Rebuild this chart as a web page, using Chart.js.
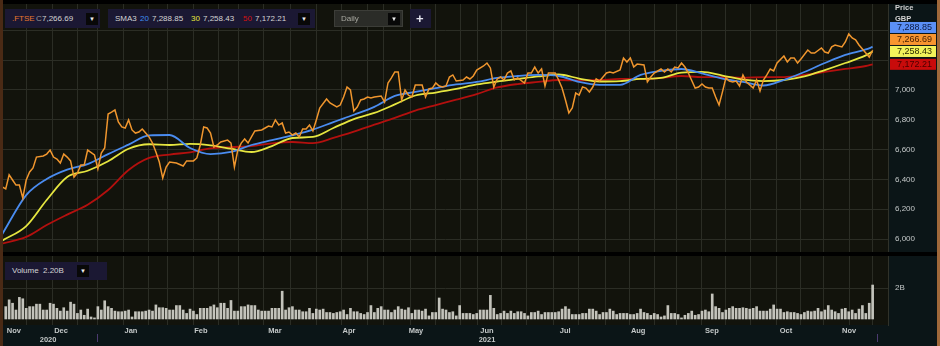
<!DOCTYPE html>
<html>
<head>
<meta charset="utf-8">
<title>FTSE daily</title>
<script src="https://cdn.jsdelivr.net/npm/chart.js@4.4.1/dist/chart.umd.min.js"></script>
<style>
  html, body { margin: 0; padding: 0; }
  body { width: 940px; height: 346px; background: #000; position: relative; overflow: hidden;
         font-family: "Liberation Sans", Arial, sans-serif; }
  canvas { position: absolute; left: 3px; }
  #priceChart { top: 4px; }
  #volumeChart { top: 256px; }
  .edge { position: absolute; top: 0; height: 346px; }
  .box { position: absolute; background: #1b1833; height: 19px; color: #d4d4d4; font-size: 8px; }
  .box span { position: absolute; top: 5px; white-space: nowrap; line-height: 9px; }
  .dd { position: absolute; width: 12px; height: 12px; background: #080808; color: #eee;
        font-size: 6px; line-height: 12px; text-align: center; }
  .axisTitle { position: absolute; left: 895px; color: #d2d2d2; font-size: 7.5px; font-weight: bold; }
  .mark { position: absolute; top: 334px; width: 1px; height: 8px; background: #4c3a70; }
</style>
</head>
<body>
<canvas id="priceChart" width="934" height="248"></canvas>
<canvas id="volumeChart" width="934" height="90"></canvas>
<div class="edge" style="left:0;width:3px;background:#4a2a15"></div>
<div class="edge" style="left:937px;width:3px;background:#a0683a"></div>

<div class="box" style="left:5px;top:9px;width:95px">
  <span style="left:7px;color:#e8772e">.FTSE</span>
  <span style="left:31px;color:#9a9a9a">C</span>
  <span style="left:37px">7,266.69</span>
  <div class="dd" style="left:81px;top:4px">▼</div>
</div>
<div class="box" style="left:108px;top:9px;width:207px">
  <span style="left:7px">SMA3</span>
  <span style="left:32px;color:#3f8ef2">20</span>
  <span style="left:44px">7,288.85</span>
  <span style="left:83px;color:#e6e63c">30</span>
  <span style="left:95px">7,258.43</span>
  <span style="left:135px;color:#d21212">50</span>
  <span style="left:147px">7,172.21</span>
  <div class="dd" style="left:190px;top:4px">▼</div>
</div>
<div class="box" style="left:334px;top:10px;width:67px;height:15px;background:#2b2c28;border:1px solid #3c3d38">
  <span style="left:6px;top:3px;color:#a8a8a0">Daily</span>
  <div class="dd" style="left:53px;top:2px">▼</div>
</div>
<div class="box" style="left:410px;top:9px;width:21px">
  <span style="left:6px;top:3px;font-size:13px;font-weight:bold;line-height:13px;color:#e4e4ee">+</span>
</div>
<div class="box" style="left:5px;top:262px;width:102px;height:18px">
  <span style="left:7px;top:4px">Volume</span>
  <span style="left:38px;top:4px">2.20B</span>
  <div class="dd" style="left:72px;top:3px">▼</div>
</div>
<div class="axisTitle" style="top:3px">Price</div>
<div class="axisTitle" style="top:14px">GBP</div>
<div class="mark" style="left:97px"></div>
<div class="mark" style="left:877px"></div>

<script>
// trading day index (0 = first volume bar) and closing level of .FTSE
const closeDays = [
  -1, 0, 1, 2, 3, 4, 5, 6, 7, 8,
  9, 11, 12, 13, 14, 15, 16, 17, 18, 19,
  20, 21, 22, 23, 24, 26, 27, 28, 29, 30,
  31, 32, 33, 34, 35, 36, 37, 38, 39, 40,
  41, 42, 43, 44, 45, 46, 47, 48, 50, 52,
  53, 55, 56, 57, 58, 59, 60, 61, 62, 63,
  65, 66, 67, 68, 69, 70, 71, 72, 73, 75,
  76, 77, 78, 79, 80, 81, 82, 83, 84, 85,
  86, 87, 88, 89, 90, 91, 92, 94, 95, 97,
  98, 99, 100, 101, 102, 103, 104, 105, 106, 107,
  108, 110, 111, 112, 113, 114, 115, 116, 117, 118,
  119, 120, 121, 122, 123, 124, 125, 126, 127, 128,
  129, 130, 131, 132, 134, 135, 136, 137, 138, 140,
  141, 142, 143, 144, 145, 146, 147, 148, 149, 150,
  152, 153, 154, 155, 156, 157, 158, 159, 160, 161,
  162, 163, 164, 165, 166, 167, 168, 169, 170, 171,
  172, 173, 174, 175, 176, 177, 178, 180, 181, 182,
  183, 184, 185, 187, 188, 189, 190, 192, 193, 194,
  195, 196, 197, 198, 199, 200, 202, 203, 204, 205,
  206, 207, 208, 209, 210, 211, 212, 213, 214, 215,
  216, 217, 218, 219, 220, 221, 222, 223, 224, 225,
  226, 228, 229, 230, 231, 232, 233, 235, 236, 237,
  239, 240, 241, 242, 243, 245, 246, 247, 248, 249,
  250, 252, 253, 254
];
const closeValues = [
  6349, 6336, 6430, 6396, 6362, 6362, 6275, 6396, 6450, 6477,
  6550, 6557, 6570, 6597, 6550, 6537, 6510, 6570, 6550, 6524,
  6416, 6443, 6497, 6497, 6597, 6564, 6470, 6577, 6611, 6839,
  6852, 6866, 6785, 6752, 6745, 6799, 6732, 6711, 6718, 6738,
  6711, 6685, 6644, 6584, 6517, 6409, 6483, 6517, 6510, 6490,
  6524, 6524, 6544, 6631, 6752, 6745, 6711, 6617, 6631, 6651,
  6664, 6644, 6483, 6597, 6644, 6671, 6644, 6685, 6725, 6732,
  6745, 6758, 6752, 6799, 6765, 6779, 6711, 6718, 6698, 6711,
  6685, 6738, 6738, 6765, 6725, 6799, 6879, 6940, 6913, 6886,
  6899, 6953, 7020, 7000, 6859, 6886, 6933, 6940, 6953, 6946,
  6953, 6960, 6919, 7047, 7081, 7121, 7121, 6933, 7000, 6966,
  6953, 7034, 7034, 7034, 6953, 7007, 7013, 7047, 7027, 7020,
  7027, 7087, 7101, 7060, 7067, 7087, 7074, 7094, 7134, 7161,
  7181, 7148, 7020, 7074, 7087, 7067, 7114, 7128, 7067, 7081,
  7047, 7114, 7114, 7154, 7114, 7141, 7027, 7114, 7114, 7114,
  7067, 7013, 6933, 6846, 6879, 6980, 6966, 7020, 7013, 6987,
  7020, 7074, 7060, 7087, 7114, 7121, 7114, 7134, 7215, 7188,
  7215, 7154, 7174, 7168, 7054, 7087, 7114, 7141, 7121, 7141,
  7121, 7154, 7148, 7181, 7154, 7114, 7013, 7020, 7040, 7020,
  7013, 7013, 6953, 6899, 6987, 7081, 7060, 7054, 7060, 7027,
  7101, 7054, 7034, 7013, 7067, 6993, 7067, 7101, 7141, 7128,
  7181, 7228, 7188, 7215, 7215, 7181, 7208, 7268, 7248, 7248,
  7282, 7255, 7248, 7289, 7302, 7289, 7322, 7376, 7349, 7336,
  7302, 7248, 7221, 7266.69
];

// simple moving averages, read every sixth trading day
const smaDays = [-1, 6, 12, 18, 24, 30, 36, 42, 48, 54, 60, 66, 72, 78, 84, 90, 96, 102, 108, 114, 120,
  126, 132, 138, 144, 150, 156, 162, 168, 174, 180, 186, 192, 198, 204, 210, 216, 222, 228, 234, 240,
  246, 252, 254];
const sma20 = [6034, 6295, 6403, 6466, 6503, 6570, 6633, 6695, 6698, 6611, 6570, 6584, 6631, 6664, 6696,
  6734, 6785, 6834, 6887, 6960, 6987, 7013, 7037, 7054, 7081, 7094, 7101, 7094, 7054, 7034, 7034, 7101,
  7128, 7141, 7111, 7077, 7054, 7030, 7067, 7121, 7181, 7235, 7272, 7288.85];
const sma30 = [5990, 6087, 6262, 6416, 6458, 6522, 6606, 6636, 6631, 6638, 6628, 6606, 6584, 6624, 6678,
  6685, 6745, 6805, 6846, 6903, 6963, 6983, 7007, 7037, 7057, 7074, 7091, 7104, 7077, 7057, 7060, 7074,
  7081, 7117, 7121, 7097, 7070, 7060, 7067, 7091, 7134, 7181, 7232, 7258.43];
const sma50 = [5970, 6014, 6094, 6164, 6230, 6329, 6463, 6544, 6567, 6582, 6608, 6617, 6624, 6642, 6651,
  6644, 6678, 6720, 6767, 6813, 6862, 6899, 6935, 6973, 7017, 7040, 7054, 7067, 7064, 7067, 7074, 7074,
  7081, 7094, 7087, 7087, 7081, 7087, 7087, 7101, 7121, 7141, 7161, 7172.21];

// daily volume in billions of shares, one bar per trading day from day 0
const volumes = [
  0.80, 1.24, 1.02, 0.58, 1.40, 1.31, 0.69, 0.80, 0.80, 0.96,
  0.96, 0.58, 0.58, 1.02, 0.96, 0.69, 0.51, 0.73, 0.51, 1.09,
  0.96, 0.36, 0.58, 0.24, 0.64, 0.13, 0.07, 0.80, 0.58, 1.18,
  0.80, 0.69, 0.51, 0.47, 0.47, 0.51, 0.58, 0.13, 0.47, 0.47,
  0.47, 0.51, 0.58, 0.51, 0.91, 0.73, 0.73, 0.69, 0.58, 0.58,
  0.87, 0.87, 0.58, 0.36, 0.64, 0.51, 0.29, 0.69, 0.69, 0.69,
  0.80, 0.91, 0.73, 1.02, 1.02, 0.69, 1.20, 0.51, 0.51, 0.80,
  0.80, 0.91, 0.87, 0.87, 0.58, 0.51, 0.51, 0.51, 0.69, 0.69,
  0.69, 1.80, 0.58, 0.73, 0.80, 0.58,
  0.58, 0.47, 0.47, 0.69, 0.36, 0.64, 0.58, 0.64, 0.42, 0.42,
  0.36, 0.42, 0.47, 0.58, 0.29, 0.69, 0.47, 0.47, 0.36, 0.29,
  0.42, 0.87, 0.42, 0.69, 0.80, 0.58, 0.58, 0.42, 0.58, 0.80,
  0.64, 0.58, 0.73, 0.36, 0.58, 0.58, 0.51, 0.64, 0.20, 0.42,
  0.42, 1.36, 0.64, 0.58, 0.42, 0.47, 0.20, 0.87, 0.36, 0.36,
  0.36, 0.29, 0.36, 0.58, 0.58, 0.58, 1.53, 0.69, 0.29, 0.36,
  0.51, 0.36, 0.51, 0.36, 0.47, 0.47, 0.36, 0.20, 0.42, 0.42,
  0.51, 0.29, 0.42, 0.42, 0.42, 0.42, 0.47, 0.64, 0.80, 0.64,
  0.29, 0.29, 0.29, 0.36, 0.36, 0.64,
  0.64, 0.51, 0.29, 0.42, 0.42, 0.64, 0.51, 0.29, 0.36, 0.36,
  0.36, 0.29, 0.29, 0.36, 0.64, 0.42, 0.36, 0.24, 0.36, 0.29,
  0.13, 0.20, 0.87, 0.36, 0.36, 0.29, 0.07, 0.24, 0.36, 0.51,
  0.24, 0.29, 0.51, 0.58, 0.47, 1.62, 0.80, 0.69, 0.42, 0.58,
  0.69, 0.80, 0.69, 0.69, 0.73, 0.69, 0.64, 0.69, 0.80, 0.51,
  0.51, 0.51, 0.64, 0.91, 0.64, 0.64, 0.42, 0.47, 0.42, 0.42,
  0.36, 0.29, 0.42, 0.51, 0.47, 0.51, 0.69, 0.47, 0.58, 0.87,
  0.58, 0.47, 0.36, 0.64, 0.69, 0.47, 0.58, 0.36, 0.64, 0.87,
  0.36, 1.02, 2.20
];

// axis furniture (in trading days)
const gridDays = [6.2, 13.6, 20.9, 27.0, 34.4, 41.7, 47.5, 54.9, 62.2, 68.1, 75.4, 83.3, 91.2, 98.5,
  105.9, 110.8, 118.5, 125.8, 133.1, 138.1, 145.4, 152.7, 160.4, 167.9, 175.6, 182.9, 190.2, 196.4,
  204.0, 211.0, 218.3, 225.7, 233.0, 239.5, 247.1, 254.1];
const monthDays = [2.4, 16.2, 36.7, 57.2, 78.9, 100.6, 120.2, 141.0, 163.9, 185.3, 206.9, 228.6, 247.1];
const monthLabels = ['Nov', 'Dec', 'Jan', 'Feb', 'Mar', 'Apr', 'May', 'Jun', 'Jul', 'Aug', 'Sep', 'Oct', 'Nov'];
const yearDays = [12.4, 141.0];
const yearLabels = ['2020', '2021'];
const priceTicks = [6000, 6200, 6400, 6600, 6800, 7000, 7200, 7400];
const volumeTicks = [2];

const dayMin = -0.8, dayMax = 258.5;
const gridColor = '#2b2d25';
const labelColor = '#c4c8c8';

Chart.defaults.font.family = '"Liberation Sans", Arial, sans-serif';

const panelBg = {
  id: 'panelBg',
  beforeDraw(chart) {
    const { ctx, chartArea: a, width, height } = chart;
    ctx.save();
    ctx.fillStyle = '#0b1517';
    ctx.fillRect(0, 0, width, height);
    ctx.fillStyle = '#12130c';
    ctx.fillRect(a.left, a.top, a.right - a.left, a.bottom - a.top);
    ctx.restore();
  }
};

// last-value tags on the price axis, stacked upward so they do not overlap
const priceTags = {
  id: 'priceTags',
  afterDraw(chart) {
    const { ctx } = chart;
    const y = chart.scales.y;
    const x0 = chart.chartArea.right + 2;
    const tags = [
      { v: sma50[sma50.length - 1], bg: '#c80b0b', fg: '#4a0000' },
      { v: sma30[sma30.length - 1], bg: '#f2f25a', fg: '#2a2a00' },
      { v: closeValues[closeValues.length - 1], bg: '#f7952f', fg: '#4a2000' },
      { v: sma20[sma20.length - 1], bg: '#5b90f5', fg: '#0c1a40' }
    ];
    let limit = Infinity;
    ctx.save();
    ctx.font = '9px "Liberation Sans", Arial, sans-serif';
    ctx.textBaseline = 'middle';
    for (const t of tags) {
      const cy = Math.min(y.getPixelForValue(t.v), limit);
      ctx.fillStyle = t.bg;
      ctx.fillRect(x0, cy - 5.5, 46, 11);
      ctx.fillStyle = t.fg;
      ctx.fillText(t.v.toLocaleString('en-US', { minimumFractionDigits: 2, maximumFractionDigits: 2 }), x0 + 7, cy + 0.5);
      limit = cy - 12;
    }
    ctx.restore();
  }
};

// the scales must not reserve room for half labels: the plot fills the canvas
function noPad(s) {
  s.paddingTop = 0;
  s.paddingBottom = 0;
  s.paddingLeft = 0;
  s.paddingRight = 0;
}

function gridAxis() {
  return {
    type: 'linear', axis: 'x', position: 'top', min: dayMin, max: dayMax, offset: false,
    afterBuildTicks: s => { s.ticks = gridDays.map(v => ({ value: v })); },
    afterFit: s => { s.height = 0; noPad(s); },
    ticks: { display: false },
    grid: { color: gridColor, drawTicks: false, offset: false },
    border: { display: false }
  };
}

function labelAxis(days, labels, weight, height, padding) {
  return {
    type: 'linear', axis: 'x', position: 'bottom', min: dayMin, max: dayMax, offset: false, weight: weight,
    afterBuildTicks: s => { s.ticks = days.map(v => ({ value: v })); },
    afterFit: s => { s.height = height; noPad(s); },
    ticks: {
      color: labelColor, font: { size: 7.5, weight: 'bold' }, padding: padding,
      autoSkip: false, maxRotation: 0, callback: (v, i) => labels[i]
    },
    grid: { display: false, drawTicks: false, offset: false },
    border: { display: false }
  };
}

function points(days, values) {
  return days.map((d, i) => ({ x: d, y: values[i] }));
}

function smaLine(label, values, color) {
  return {
    label: label, data: points(smaDays, values), borderColor: color, borderWidth: 1.8,
    pointRadius: 0, cubicInterpolationMode: 'monotone', xAxisID: 'x', yAxisID: 'y'
  };
}

new Chart(document.getElementById('priceChart'), {
  type: 'line',
  data: {
    datasets: [
      { label: '.FTSE', data: points(closeDays, closeValues), borderColor: '#f0962e', borderWidth: 1.5,
        pointRadius: 0, tension: 0, xAxisID: 'x', yAxisID: 'y' },
      smaLine('SMA 20', sma20, '#4a8cf0'),
      smaLine('SMA 30', sma30, '#e6e640'),
      smaLine('SMA 50', sma50, '#b3100e')
    ]
  },
  options: {
    responsive: false,
    animation: false,
    devicePixelRatio: 1,
    layout: { padding: 0, autoPadding: false },
    plugins: { legend: { display: false }, tooltip: { enabled: false } },
    scales: {
      x: gridAxis(),
      y: {
        position: 'right', min: 5913, max: 7577,
        afterBuildTicks: s => { s.ticks = priceTicks.map(v => ({ value: v })); },
        afterFit: s => { s.width = 49; noPad(s); },
        ticks: {
          color: labelColor, font: { size: 8 }, padding: 7,
          callback: v => v <= 7000 ? v.toLocaleString('en-US') : ''
        },
        grid: { color: gridColor, drawTicks: false },
        border: { display: true, color: '#30322a' }
      }
    }
  },
  plugins: [panelBg, priceTags]
});

new Chart(document.getElementById('volumeChart'), {
  type: 'bar',
  data: {
    datasets: [{
      label: 'Volume', data: points(volumes.map((v, i) => i), volumes),
      backgroundColor: '#c3c3bb', barThickness: 2, borderWidth: 0, xAxisID: 'x', yAxisID: 'y'
    }]
  },
  options: {
    responsive: false,
    animation: false,
    devicePixelRatio: 1,
    layout: { padding: 0, autoPadding: false },
    plugins: { legend: { display: false }, tooltip: { enabled: false } },
    scales: {
      xGrid: gridAxis(),
      x: labelAxis(monthDays, monthLabels, 0, 10, 1),
      xYear: labelAxis(yearDays, yearLabels, 1, 11, 0),
      y: {
        position: 'right', min: -0.39, max: 4.08,
        afterBuildTicks: s => { s.ticks = volumeTicks.map(v => ({ value: v })); },
        afterFit: s => { s.width = 49; noPad(s); },
        ticks: { color: labelColor, font: { size: 8 }, padding: 7, callback: v => v + 'B' },
        grid: { color: gridColor, drawTicks: false },
        border: { display: true, color: '#30322a' }
      }
    }
  },
  plugins: [panelBg]
});
</script>
</body>
</html>
